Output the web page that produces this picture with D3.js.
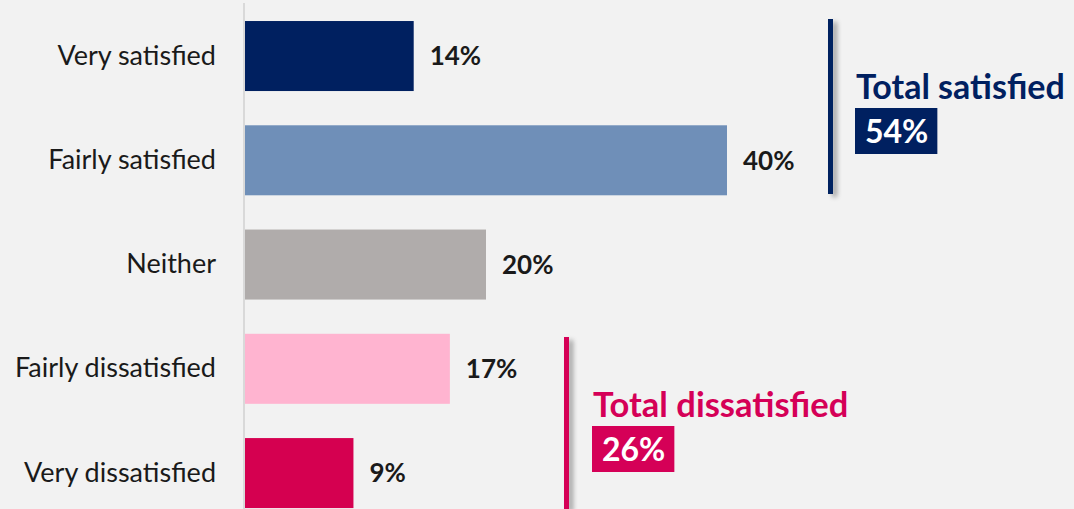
<!DOCTYPE html>
<html>
<head>
<meta charset="utf-8">
<script src="https://cdn.jsdelivr.net/npm/d3@7/dist/d3.min.js"></script>
<style>
  html, body { margin: 0; padding: 0; background: #f2f2f2; }
  svg { display: block; }
  text { font-family: Lato, "Open Sans", sans-serif; }
</style>
</head>
<body>
<svg id="chart" width="1074" height="509"></svg>
<script>
// Satisfaction levels and their shares (%)
const categories = ["Very satisfied", "Fairly satisfied", "Neither", "Fairly dissatisfied", "Very dissatisfied"];
const values = [14, 40, 20, 17, 9];
const barColors = ["#002060", "#6f8fb8", "#b0acab", "#ffb4d0", "#d50050"];

// Net groupings shown to the right of the bars
const groupLabels = ["Total satisfied", "Total dissatisfied"];
const groupMembers = [[0, 1], [3, 4]];
const groupColors = ["#002060", "#d50057"];

const width = 1074, height = 509;
const svg = d3.select("#chart");

const x = d3.scaleLinear().domain([0, 40]).range([245, 727]);
const y = d3.scaleBand()
  .domain(categories)
  .range([3.9, 525.2])
  .paddingInner(0.3285)
  .paddingOuter(0.16425);

// Soft drop shadow used by the bracket bars
const defs = svg.append("defs");
const f = defs.append("filter").attr("id", "shadow")
  .attr("filterUnits", "userSpaceOnUse")
  .attr("x", 0).attr("y", 0).attr("width", width).attr("height", height);
f.append("feGaussianBlur").attr("in", "SourceAlpha").attr("stdDeviation", 2.5).attr("result", "b");
f.append("feOffset").attr("in", "b").attr("dx", 4).attr("dy", 3).attr("result", "o");
f.append("feComponentTransfer").attr("in", "o").attr("result", "s")
  .append("feFuncA").attr("type", "linear").attr("slope", 0.35);
const m = f.append("feMerge");
m.append("feMergeNode").attr("in", "s");
m.append("feMergeNode").attr("in", "SourceGraphic");

// Bars
svg.append("g").selectAll("rect")
  .data(categories)
  .join("rect")
  .attr("x", x(0))
  .attr("y", d => y(d))
  .attr("width", (d, i) => x(values[i]) - x(0))
  .attr("height", y.bandwidth())
  .attr("fill", (d, i) => barColors[i]);

// Category axis
const axis = svg.append("g")
  .attr("transform", `translate(${x(0) - 1},0)`)
  .call(d3.axisLeft(y).tickSize(0).tickPadding(28));
axis.select(".domain").remove();
axis.append("line")
  .attr("x1", 0).attr("x2", 0).attr("y1", 3).attr("y2", height)
  .attr("stroke", "#d9d9d9").attr("stroke-width", 2);
axis.selectAll(".tick text")
  .attr("fill", "#1a1a1a")
  .style("font-size", "27px")
  .style("font-family", "Lato, 'Open Sans', sans-serif");

// Value labels
svg.append("g").selectAll("text")
  .data(categories)
  .join("text")
  .attr("x", (d, i) => x(values[i]) + 16)
  .attr("y", d => y(d) + y.bandwidth() / 2)
  .attr("dy", "0.36em")
  .attr("fill", "#1a1a1a")
  .attr("font-weight", "bold")
  .attr("font-size", "26px")
  .text((d, i) => values[i] + "%");

// Net bracket groups
const groupLayout = [
  { lineX: 828, y1: 19, y2: 194, textX: 856, textY: 99, boxY: 108, fs: 34 },
  { lineX: 564, y1: 337, y2: 509, textX: 593, textY: 417, boxY: 426, fs: 34.5 }
];
groupLabels.forEach((label, g) => {
  const L = groupLayout[g];
  const total = d3.sum(groupMembers[g], i => values[i]);
  const grp = svg.append("g");
  grp.append("rect")
    .attr("x", L.lineX).attr("y", L.y1)
    .attr("width", 5).attr("height", L.y2 - L.y1)
    .attr("fill", groupColors[g])
    .attr("filter", "url(#shadow)");
  grp.append("text")
    .attr("x", L.textX).attr("y", L.textY)
    .attr("fill", groupColors[g])
    .attr("font-weight", "bold")
    .attr("font-size", L.fs + "px")
    .text(label);
  const box = grp.append("rect")
    .attr("x", L.textX - 1).attr("y", L.boxY)
    .attr("height", 46)
    .attr("fill", groupColors[g]);
  const valText = grp.append("text")
    .attr("x", L.textX + 9).attr("y", L.boxY + 35)
    .attr("fill", "#ffffff")
    .attr("font-weight", "bold")
    .attr("font-size", "32px")
    .text(total + "%");
  box.attr("width", valText.node().getComputedTextLength() + 19);
});
</script>
</body>
</html>
